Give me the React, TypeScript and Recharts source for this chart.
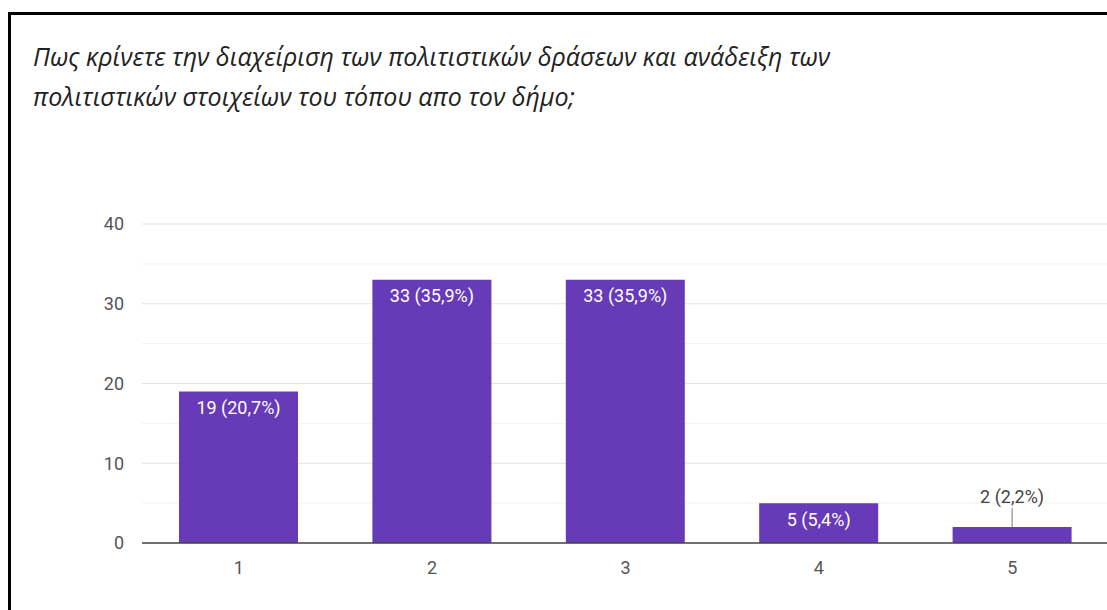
import React from "react"
import { Bar, BarChart, CartesianGrid, LabelList, XAxis, YAxis } from "recharts"

const titleLines = [
  "Πως κρίνετε την διαχείριση των πολιτιστικών δράσεων και ανάδειξη των",
  "πολιτιστικών στοιχείων του τόπου απο τον δήμο;",
]
const categories = ["1", "2", "3", "4", "5"]
const counts = [19, 33, 33, 5, 2]
const percents = ["20,7%", "35,9%", "35,9%", "5,4%", "2,2%"]
const yTicks = [0, 10, 20, 30, 40]
const minorTicks = [5, 15, 25, 35]

const data = categories.map((name, i) => ({
  name,
  value: counts[i],
  label: `${counts[i]} (${percents[i]})`,
}))

const BarLabel = (props: any) => {
  const { x, y, width, height, value } = props
  const cx = Number(x) + Number(width) / 2
  const top = Number(y)
  if (Number(height) < 25) {
    return (
      <g>
        <line x1={cx} x2={cx} y1={top} y2={top - 19} stroke="#777" strokeWidth={1} />
        <text x={cx} y={top - 30} dy="0.355em" textAnchor="middle" fill="#444" fontSize={18} fontFamily="Roboto">
          {value}
        </text>
      </g>
    )
  }
  return (
    <text x={cx} y={top + 16} dy="0.355em" textAnchor="middle" fill="#fff" fontSize={18} fontFamily="Roboto">
      {value}
    </text>
  )
}

export default function App() {
  return (
    <div
      style={{
        position: "absolute",
        left: 0,
        top: 0,
        width: 1107,
        height: 610,
        overflow: "hidden",
        background: "#fff",
      }}
    >
      <div
        style={{
          position: "absolute",
          left: 8,
          top: 12,
          right: 0,
          bottom: 0,
          borderTop: "3px solid #000",
          borderLeft: "3px solid #000",
        }}
      />
      <div
        style={{
          position: "absolute",
          left: 33,
          top: 36,
          fontFamily: "'Open Sans', sans-serif",
          fontStyle: "italic",
          fontSize: 25,
          lineHeight: "40px",
          color: "#222",
          whiteSpace: "nowrap",
        }}
      >
        {titleLines.map((t) => (
          <div key={t}>{t}</div>
        ))}
      </div>
      <div style={{ position: "absolute", left: 0, top: 0 }}>
        <BarChart width={1110} height={610} data={data} margin={{ top: 224, right: 1, left: 0, bottom: 37 }}>
          <CartesianGrid
            vertical={false}
            stroke="#f2f2f2"
            horizontalCoordinatesGenerator={({ offset }: any) =>
              minorTicks.map((v) => offset.top + offset.height * (1 - v / 40))
            }
          />
          <CartesianGrid vertical={false} stroke="#e3e3e3" />
          <YAxis
            domain={[0, 40]}
            ticks={yTicks}
            width={142}
            axisLine={false}
            tickLine={false}
            tickMargin={12}
            tick={{ fill: "#555", fontSize: 18, fontFamily: "Roboto" }}
          />
          <XAxis
            dataKey="name"
            height={30}
            tickLine={false}
            tickMargin={12}
            axisLine={{ stroke: "#444", strokeWidth: 1.5 }}
            tick={{ fill: "#555", fontSize: 18, fontFamily: "Roboto" }}
          />
          <Bar dataKey="value" fill="#673ab7" barSize={119} isAnimationActive={false}>
            <LabelList dataKey="label" content={BarLabel} />
          </Bar>
        </BarChart>
      </div>
    </div>
  )
}
